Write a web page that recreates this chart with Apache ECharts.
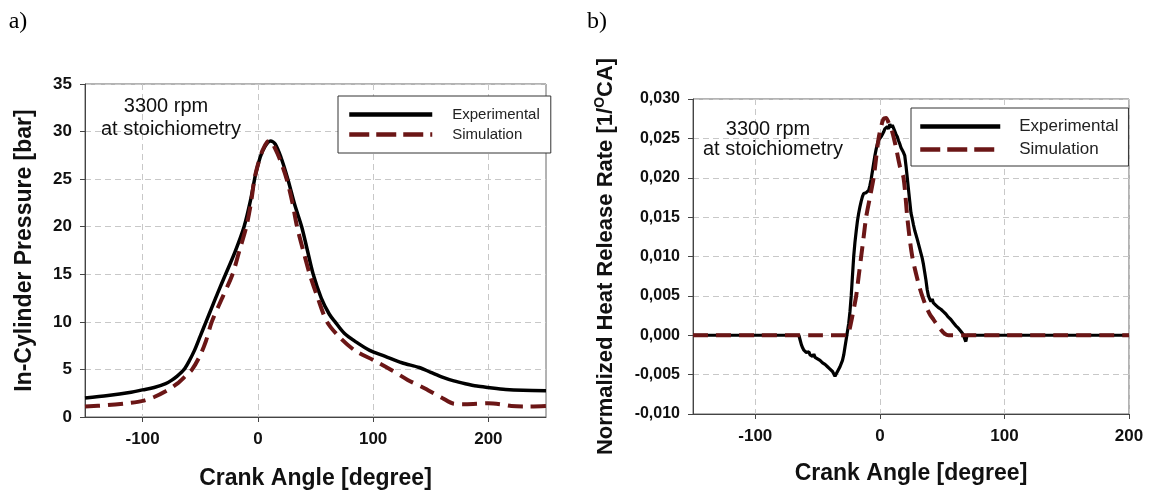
<!DOCTYPE html>
<html>
<head>
<meta charset="utf-8">
<script src="https://cdn.jsdelivr.net/npm/echarts@6/dist/echarts.min.js"></script>
<style>html,body{margin:0;padding:0;background:#fff;}#c{width:1149px;height:492px;}</style>
</head>
<body>
<div id="c"></div>
<script>
// ---- Panel a) In-cylinder pressure ----
const pressureExpX = [-150,-130,-110,-100,-90,-80,-75,-70,-64,-60,-55,-50,-45,-40,-35,-28,-20,-12,-6,-2,2,6,11,15,20,26,32,38,43,48,55,62,67,75,85,97,110,125,140,150,160,170,180,190,200,215,230,250];
const pressureExpY = [2.0,2.25,2.6,2.85,3.1,3.5,3.85,4.3,5.0,5.8,7.0,8.5,10.0,11.5,13.0,15.0,17.3,20.0,23.0,25.5,27.3,28.4,29.0,28.7,27.3,25.0,22.3,20.0,17.5,15.0,12.5,10.8,10.0,8.8,7.9,7.0,6.4,5.7,5.2,4.7,4.2,3.8,3.5,3.25,3.1,2.9,2.8,2.75];
const pressureSimX = [-150,-130,-110,-100,-90,-80,-70,-62,-57,-50,-45,-40,-31,-22,-16,-10,-6,-3,0,4,8,11,15,20,25,30,34,40,45,52,60,70,84,100,115,130,145,160,170,180,200,210,220,235,250];
const pressureSimY = [1.1,1.25,1.5,1.7,2.1,2.7,3.5,4.4,5.0,6.5,8.0,10.0,12.5,15.0,17.5,20.0,22.5,25.0,26.5,28.0,28.9,29.0,28.2,26.8,25.0,22.5,20.0,17.2,15.0,12.5,10.0,8.5,7.0,6.0,5.0,3.9,3.0,2.0,1.4,1.35,1.45,1.35,1.15,1.1,1.15];

// ---- Panel b) Normalized heat release rate ----
const hrrExpX = [-150,-100,-65,-64,-63,-62,-61,-60,-59,-58,-57,-56,-55,-54,-53,-52,-51,-50,-49,-48,-47,-46,-45,-44,-43,-42,-41,-40,-39,-38,-37,-36,-35,-34,-33,-32,-31,-30,-29,-28,-27,-26,-25,-24,-23,-22,-21,-20,-19,-18,-17,-16,-15,-14,-13,-12,-11,-10,-9,-8,-7,-6,-5,-4,-3,-2,-1,0,1,2,3,4,5,6,7,8,9,10,11,12,13,14,15,16,17,18,19,20,21,22,23,24,25,26,27,28,30,32,34,35,36,37,38,39,40,41,42,43,44,45,46,47,48,49,50,51,52,53,54,55,56,57,58,59,60,61,62,63,64,65,66,67,68,69,70,100,150,200];
const hrrExpY = [0,0,0,-0.0006,-0.0012,-0.0016,-0.0019,-0.0017,-0.0022,-0.0024,-0.0021,-0.0025,-0.0023,-0.0027,-0.0024,-0.0028,-0.0026,-0.0030,-0.0028,-0.0032,-0.0031,-0.0035,-0.0033,-0.0037,-0.0036,-0.0040,-0.0039,-0.0043,-0.0042,-0.0046,-0.0048,-0.0052,-0.0049,-0.0046,-0.0045,-0.0040,-0.0038,-0.0032,-0.0025,-0.0015,-0.0005,0.0005,0.0015,0.0030,0.0050,0.0075,0.0100,0.0118,0.0132,0.0145,0.0155,0.0163,0.0170,0.0176,0.0180,0.0182,0.0181,0.0182,0.0184,0.0190,0.0198,0.0208,0.0218,0.0228,0.0236,0.0243,0.0248,0.0250,0.0252,0.0255,0.0258,0.0262,0.0263,0.0265,0.0262,0.0268,0.0264,0.0267,0.0263,0.0262,0.0255,0.0252,0.0247,0.0243,0.0238,0.0236,0.0232,0.0228,0.0215,0.0200,0.0185,0.0170,0.0155,0.0148,0.0140,0.0133,0.0122,0.0110,0.0098,0.0090,0.0080,0.0070,0.0058,0.0050,0.0046,0.0043,0.0046,0.0041,0.0043,0.0038,0.0040,0.0035,0.0037,0.0033,0.0034,0.0030,0.0031,0.0027,0.0028,0.0023,0.0024,0.0020,0.0019,0.0016,0.0017,0.0012,0.0013,0.0009,0.0010,0.0005,0.0006,0.0001,-0.0004,-0.0008,0,0,0,0];
const hrrSimX = [-150,-100,-50,-26,-25,-22,-19,-17,-15,-13,-11,-8,-5,-3,-1,1,3,5,7,10,13,16,19,22,24,26,28,30,32,34,37,40,43,46,49,52,55,100,150,200];
const hrrSimY = [0,0,0,0,0.0003,0.0025,0.0050,0.0075,0.0100,0.0125,0.0150,0.0175,0.0200,0.0225,0.0250,0.0265,0.0275,0.0276,0.0270,0.0258,0.0238,0.0215,0.0200,0.0150,0.0122,0.0100,0.0085,0.0072,0.0060,0.0050,0.0037,0.0027,0.0020,0.0013,0.0007,0.0002,0,0,0,0];

const xTicks = [-100, 0, 100, 200];
const seriesNames = ['Experimental', 'Simulation'];
const annotationLines = ['3300 rpm', 'at stoichiometry'];

const zip = (xs, ys) => xs.map((x, i) => [x, ys[i]]);
const FONT = "'Liberation Sans', Arial, sans-serif";
const AXIS_COLOR = '#444';
const GRID_LINE = { show: true, lineStyle: { color: '#c8c8c8', width: 1, type: [6, 4] } };
const EXP_COLOR = '#000000';
const SIM_COLOR = '#6b1616';
const SIM_DASH = [15, 8];

function xAxis(gridIndex, min, max, nameGap) {
  return {
    type: 'value', gridIndex, min, max, interval: 50,
    name: 'Crank Angle [degree]', nameLocation: 'middle', nameGap,
    nameTextStyle: { fontFamily: FONT, fontSize: 23, fontWeight: 'bold', color: '#111' },
    axisLine: { show: true, onZero: false, lineStyle: { color: AXIS_COLOR, width: 1 } },
    axisTick: { show: true, inside: false, length: 5, customValues: xTicks, lineStyle: { color: AXIS_COLOR } },
    axisLabel: { customValues: xTicks, margin: 14, fontFamily: FONT, fontSize: 17, fontWeight: 'bold', color: '#111' },
    splitLine: GRID_LINE
  };
}

function legendData(width) {
  return [
    { name: seriesNames[0], lineStyle: { color: EXP_COLOR, width: width, type: 'solid' } },
    { name: seriesNames[1], lineStyle: { color: SIM_COLOR, width: width, type: [20, 7] } }
  ];
}

const chart = echarts.init(document.getElementById('c'), null, { renderer: 'canvas' });
const option = {
  animation: false,
  backgroundColor: '#ffffff',
  grid: [
    { left: 85, top: 84, width: 461, height: 333, show: true, borderColor: '#666', borderWidth: 1, backgroundColor: 'transparent', containLabel: false, outerBoundsMode: 'none' },
    { left: 693, top: 99, width: 436, height: 315, show: true, borderColor: '#666', borderWidth: 1, backgroundColor: 'transparent', containLabel: false, outerBoundsMode: 'none' }
  ],
  xAxis: [xAxis(0, -150, 250, 50), xAxis(1, -150, 200, 48)],
  yAxis: [
    {
      type: 'value', gridIndex: 0, min: 0, max: 35, interval: 5,
      name: 'In-Cylinder Pressure [bar]', nameLocation: 'middle', nameGap: 49, nameRotate: 90,
      nameTextStyle: { fontFamily: FONT, fontSize: 23, fontWeight: 'bold', color: '#111' },
      axisLine: { show: true, onZero: false, lineStyle: { color: AXIS_COLOR, width: 1 } },
      axisTick: { show: true, length: 5, lineStyle: { color: AXIS_COLOR } },
      axisLabel: { margin: 13, fontFamily: FONT, fontSize: 17, fontWeight: 'bold', color: '#111' },
      splitLine: GRID_LINE
    },
    {
      type: 'value', gridIndex: 1, min: -0.01, max: 0.03, interval: 0.005,
      name: 'Normalized Heat Release Rate [1/{sup|O}CA]', nameLocation: 'middle', nameGap: 74, nameRotate: 90,
      nameTextStyle: {
        fontFamily: FONT, fontSize: 22, fontWeight: 'bold', color: '#111',
        rich: { sup: { fontFamily: FONT, fontSize: 14, fontWeight: 'bold', color: '#111', padding: [0, 0, 12, 0] } }
      },
      axisLine: { show: true, onZero: false, lineStyle: { color: AXIS_COLOR, width: 1 } },
      axisTick: { show: true, length: 5, lineStyle: { color: AXIS_COLOR } },
      axisLabel: {
        margin: 13, fontFamily: FONT, fontSize: 16, fontWeight: 'bold', color: '#111',
        formatter: v => (Math.abs(v) < 1e-9 ? 0 : v).toFixed(3).replace('.', ',')
      },
      splitLine: GRID_LINE
    }
  ],
  legend: [
    {
      data: legendData(4.5), orient: 'vertical', left: 338, top: 96,
      padding: [11, 11, 11, 9], itemWidth: 83, itemHeight: 14, itemGap: 5,
      borderColor: '#333', borderWidth: 1, backgroundColor: '#ffffff', selectedMode: false,
      itemStyle: { opacity: 0, borderWidth: 0 },
      textStyle: { fontFamily: FONT, fontSize: 15, color: '#222', padding: [0, 0, 0, 15] }
    },
    {
      data: legendData(4.5), orient: 'vertical', left: 911, top: 108,
      padding: [10, 10, 8, 7], itemWidth: 80, itemHeight: 14, itemGap: 6,
      borderColor: '#333', borderWidth: 1, backgroundColor: '#ffffff', selectedMode: false,
      itemStyle: { opacity: 0, borderWidth: 0 },
      textStyle: { fontFamily: FONT, fontSize: 17, color: '#222', padding: [0, 0, 0, 14] }
    }
  ],
  series: [
    { name: seriesNames[0], type: 'line', xAxisIndex: 0, yAxisIndex: 0, data: zip(pressureExpX, pressureExpY), smooth: 0.3, symbol: 'none', lineStyle: { color: EXP_COLOR, width: 3.5 }, itemStyle: { color: EXP_COLOR }, z: 3 },
    { name: seriesNames[1], type: 'line', xAxisIndex: 0, yAxisIndex: 0, data: zip(pressureSimX, pressureSimY), smooth: 0.3, symbol: 'none', lineStyle: { color: SIM_COLOR, width: 4, type: SIM_DASH }, itemStyle: { color: SIM_COLOR }, z: 4 },
    { name: seriesNames[0], type: 'line', xAxisIndex: 1, yAxisIndex: 1, data: zip(hrrExpX, hrrExpY), smooth: false, symbol: 'none', lineStyle: { color: EXP_COLOR, width: 3.2 }, itemStyle: { color: EXP_COLOR }, z: 3 },
    { name: seriesNames[1], type: 'line', xAxisIndex: 1, yAxisIndex: 1, data: zip(hrrSimX, hrrSimY), smooth: 0.3, symbol: 'none', lineStyle: { color: SIM_COLOR, width: 4, type: SIM_DASH }, itemStyle: { color: SIM_COLOR }, z: 4 }
  ],
  graphic: [
    { type: 'text', x: 18, y: 22, style: { text: 'a)', font: "24px 'Liberation Serif', 'Times New Roman', serif", fill: '#000', align: 'center', verticalAlign: 'middle' } },
    { type: 'text', x: 597, y: 22, style: { text: 'b)', font: "24px 'Liberation Serif', 'Times New Roman', serif", fill: '#000', align: 'center', verticalAlign: 'middle' } },
    { type: 'text', x: 166, y: 106, z: 10, style: { text: annotationLines[0], font: "20px 'Liberation Sans', Arial, sans-serif", fill: '#111', align: 'center', verticalAlign: 'middle' } },
    { type: 'text', x: 171, y: 129, z: 10, style: { text: annotationLines[1], font: "20px 'Liberation Sans', Arial, sans-serif", fill: '#111', align: 'center', verticalAlign: 'middle' } },
    { type: 'text', x: 768, y: 129, z: 10, style: { text: annotationLines[0], font: "20px 'Liberation Sans', Arial, sans-serif", fill: '#111', align: 'center', verticalAlign: 'middle' } },
    { type: 'text', x: 773, y: 149, z: 10, style: { text: annotationLines[1], font: "20px 'Liberation Sans', Arial, sans-serif", fill: '#111', align: 'center', verticalAlign: 'middle' } }
  ]
};
chart.setOption(option);
</script>
</body>
</html>
